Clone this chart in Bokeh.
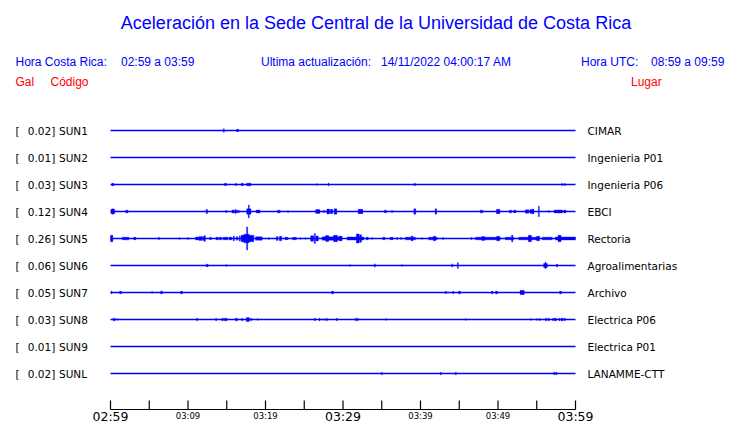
from bokeh.plotting import figure
from bokeh.models import Range1d
from bokeh.core.properties import value
from bokeh.embed import file_html
from bokeh.resources import INLINE

# ---------------- data ----------------
TITLE = "Aceleración en la Sede Central de la Universidad de Costa Rica"
HORA_CR = "02:59 a 03:59"
HORA_UTC = "08:59 a 09:59"
ACTUALIZACION = "14/11/2022 04:00:17 AM"

codes = ["SUN1", "SUN2", "SUN3", "SUN4", "SUN5", "SUN6", "SUN7", "SUN8", "SUN9", "SUNL"]
peaks = ["0.02", "0.01", "0.03", "0.12", "0.26", "0.06", "0.05", "0.03", "0.01", "0.02"]
places = ["CIMAR", "Ingenieria P01", "Ingenieria P06", "EBCI", "Rectoria",
          "Agroalimentarias", "Archivo", "Electrica P06", "Electrica P01", "LANAMME-CTT"]

# time axis (minutes after 02:59)
tick_minutes = [0, 5, 10, 15, 20, 25, 30, 35, 40, 45, 50, 55, 60]
label_minutes = [0, 10, 20, 30, 40, 50, 60]
label_texts = ["02:59", "03:09", "03:19", "03:29", "03:39", "03:49", "03:59"]
major_labels = ["02:59", "03:29", "03:59"]

# bursts per station: (minute, duration in minutes, half amplitude in trace-spacing units)
ev_sun1 = [(14.62, 0.12, 0.065), (16.39, 0.25, 0.045)]
ev_sun2 = []
ev_sun3 = [(0.30, 0.25, 0.05), (14.84, 0.25, 0.045), (16.17, 0.12, 0.045), (16.99, 0.25, 0.05),
           (17.85, 0.55, 0.05), (26.62, 0.12, 0.03), (28.13, 0.12, 0.05), (39.27, 0.12, 0.05),
           (58.28, 0.12, 0.04), (58.62, 0.12, 0.04)]
ev_sun4 = [(0.30, 0.50, 0.085), (0.30, 0.15, 0.10), (2.11, 0.30, 0.05), (12.43, 0.20, 0.07),
           (14.92, 0.15, 0.04),
           (15.83, 0.30, 0.055), (16.13, 0.15, 0.07), (16.34, 0.15, 0.05), (16.56, 0.15, 0.04),
           (17.85, 0.55, 0.10), (17.85, 0.12, 0.24), (19.05, 0.50, 0.055), (21.72, 0.35, 0.05),
           (22.92, 0.12, 0.03), (26.75, 0.55, 0.07), (27.53, 0.15, 0.04), (28.09, 0.35, 0.09),
           (28.52, 0.30, 0.08), (29.03, 0.35, 0.10), (32.26, 0.60, 0.08), (35.48, 0.30, 0.045),
           (36.34, 0.12, 0.035), (39.27, 0.25, 0.10), (41.98, 0.20, 0.10), (47.87, 0.35, 0.05),
           (50.02, 0.45, 0.08), (51.61, 0.30, 0.05), (52.17, 0.30, 0.05), (53.76, 0.45, 0.065),
           (54.32, 0.40, 0.07), (54.54, 0.20, 0.085), (55.27, 0.12, 0.19), (56.56, 0.12, 0.035),
           (57.42, 0.35, 0.055), (57.85, 0.40, 0.06), (58.19, 0.30, 0.055), (58.62, 0.25, 0.055)]
ev_sun5 = [(0.13, 0.35, 0.12), (1.94, 0.86, 0.05), (3.14, 0.30, 0.045), (6.24, 0.12, 0.05),
           (8.90, 0.12, 0.03), (9.98, 0.12, 0.035), (11.18, 0.40, 0.055), (11.61, 0.40, 0.07),
           (12.04, 0.30, 0.075), (12.17, 0.12, 0.11), (12.90, 0.20, 0.05), (13.76, 0.30, 0.05),
           (14.19, 0.30, 0.05), (14.84, 0.60, 0.05), (15.48, 0.30, 0.055), (15.91, 0.12, 0.09),
           (16.34, 0.20, 0.065), (16.69, 0.12, 0.10), (16.99, 0.20, 0.10), (17.70, 1.60, 0.12),
           (17.55, 0.70, 0.16), (17.63, 0.15, 0.43), (19.14, 0.86, 0.065), (20.43, 0.12, 0.035),
           (21.50, 0.20, 0.07), (21.94, 0.30, 0.085), (22.71, 0.40, 0.045), (23.74, 0.50, 0.045),
           (24.52, 0.12, 0.03), (25.16, 0.12, 0.03), (26.02, 0.40, 0.10), (26.37, 0.15, 0.185),
           (26.67, 0.30, 0.09), (28.60, 2.58, 0.065), (27.96, 0.40, 0.11), (29.03, 0.50, 0.12),
           (29.68, 0.30, 0.09), (31.61, 2.15, 0.06), (31.90, 0.35, 0.17), (32.26, 0.25, 0.14),
           (33.12, 0.30, 0.045), (33.76, 0.12, 0.03), (35.27, 0.30, 0.045), (36.26, 0.40, 0.045),
           (37.00, 0.12, 0.035), (37.50, 0.12, 0.035), (38.71, 1.30, 0.05), (38.92, 0.20, 0.09),
           (40.20, 0.12, 0.03), (41.60, 1.10, 0.05), (41.80, 0.30, 0.085), (42.92, 0.12, 0.04),
           (46.58, 0.12, 0.035), (48.69, 3.20, 0.05), (48.09, 0.40, 0.07), (50.02, 0.40, 0.085),
           (51.48, 1.10, 0.05), (51.83, 0.15, 0.13), (53.98, 2.60, 0.05), (54.11, 0.40, 0.12),
           (55.18, 0.40, 0.085), (56.34, 1.30, 0.05), (58.70, 2.60, 0.06), (57.94, 0.40, 0.12)]
ev_sun6 = [(12.47, 0.25, 0.05), (14.97, 0.12, 0.03), (30.88, 0.12, 0.03), (34.11, 0.12, 0.06),
           (37.59, 0.12, 0.03), (44.09, 0.12, 0.06), (44.82, 0.12, 0.11), (56.13, 0.50, 0.075),
           (56.13, 0.12, 0.12), (57.63, 0.12, 0.055)]
ev_sun7 = [(0.13, 0.12, 0.05), (1.29, 0.25, 0.05), (5.38, 0.12, 0.03), (6.58, 0.25, 0.05),
           (9.16, 0.25, 0.05), (28.65, 0.25, 0.05), (43.27, 0.12, 0.05), (44.22, 0.12, 0.05),
           (45.03, 0.25, 0.05), (49.25, 0.20, 0.05), (49.81, 0.25, 0.05), (53.12, 0.55, 0.08),
           (58.06, 0.25, 0.05)]
ev_sun8 = [(0.47, 0.25, 0.05), (0.86, 0.12, 0.03), (11.18, 0.12, 0.05), (13.63, 0.12, 0.05),
           (14.41, 0.12, 0.05), (14.67, 0.12, 0.05), (14.92, 0.25, 0.05), (16.26, 0.25, 0.05),
           (16.99, 0.12, 0.05), (17.72, 0.40, 0.075), (18.15, 0.12, 0.05), (19.01, 0.12, 0.03),
           (26.37, 0.12, 0.05), (26.97, 0.12, 0.05), (27.53, 0.12, 0.03), (27.91, 0.12, 0.05),
           (29.20, 0.12, 0.05), (31.66, 0.12, 0.05), (31.91, 0.12, 0.05), (35.53, 0.12, 0.03),
           (45.85, 0.12, 0.03), (54.24, 0.12, 0.03), (55.05, 0.12, 0.03), (55.40, 0.12, 0.04),
           (56.22, 0.25, 0.04), (56.56, 0.12, 0.05), (57.12, 0.12, 0.05), (57.42, 0.25, 0.05),
           (57.94, 0.12, 0.05), (58.28, 0.25, 0.05), (58.62, 0.12, 0.05)]
ev_sun9 = []
ev_sunl = [(35.01, 0.12, 0.05), (42.62, 0.12, 0.05), (44.56, 0.12, 0.05), (57.25, 0.12, 0.05),
           (57.51, 0.12, 0.05)]

station_events = [ev_sun1, ev_sun2, ev_sun3, ev_sun4, ev_sun5,
                  ev_sun6, ev_sun7, ev_sun8, ev_sun9, ev_sunl]

# ---------------- layout helpers (reference pixel -> data) ----------------
W, H = 740, 423
def X(px):
    return (px - 110) / 7.75
def Y(py):
    return (py - 130) / 27.0

BLUE = "#0000ff"
RED = "#ff0000"
SANS = value("Liberation Sans")
DEJ = value("DejaVu Sans")

p = figure(width=W, height=H, output_backend="svg", toolbar_location=None,
           x_range=Range1d(X(0), X(W)), y_range=Range1d(Y(H), Y(0)),
           x_axis_location=None, y_axis_location=None, min_border=0,
           background_fill_color="white", border_fill_color="white")
p.outline_line_color = None
p.grid.visible = False

rows = list(range(len(codes)))

# baselines
p.segment(x0=[tick_minutes[0]] * len(rows), x1=[tick_minutes[-1]] * len(rows),
          y0=rows, y1=rows, line_color=BLUE, line_width=1.3)

# bursts
left, right, bottom, top = [], [], [], []
for i, evs in enumerate(station_events):
    for t, w, a in evs:
        w = max(w, 0.13)
        left.append(max(t - w / 2, 0))
        right.append(min(t + w / 2, 60))
        bottom.append(i - a)
        top.append(i + a)
p.quad(left=left, right=right, bottom=bottom, top=top,
       fill_color=BLUE, line_color=BLUE, line_width=0.3)

# labels left / right
p.text(x=[X(15)] * len(rows), y=rows, text=["["] * len(rows), text_font=DEJ,
       text_font_size="10.5px", text_color="black", text_baseline="middle", text_align="left")
p.text(x=[X(54.8)] * len(rows), y=rows, text=[v + "]" for v in peaks], text_font=DEJ,
       text_font_size="10.5px", text_color="black", text_baseline="middle", text_align="right")
p.text(x=[X(58.5)] * len(rows), y=rows, text=codes, text_font=DEJ,
       text_font_size="10.5px", text_color="black", text_baseline="middle", text_align="left")
p.text(x=[X(587)] * len(rows), y=rows, text=places, text_font=DEJ,
       text_font_size="10.5px", text_color="black", text_baseline="middle", text_align="left")

# time axis
ax_y = Y(409)
p.segment(x0=[tick_minutes[0]], x1=[tick_minutes[-1]], y0=[ax_y], y1=[ax_y],
          line_color="black", line_width=1.2)
p.segment(x0=tick_minutes, x1=tick_minutes, y0=[ax_y] * len(tick_minutes),
          y1=[Y(400)] * len(tick_minutes), line_color="black", line_width=1.2)
big = [(m, t) for m, t in zip(label_minutes, label_texts) if t in major_labels]
small = [(m, t) for m, t in zip(label_minutes, label_texts) if t not in major_labels]
p.text(x=[m for m, _ in big], y=[Y(416.2)] * len(big), text=[t for _, t in big],
       text_font=DEJ, text_font_size="12.5px", text_color="black",
       text_baseline="middle", text_align="center")
p.text(x=[m for m, _ in small], y=[Y(415.5)] * len(small), text=[t for _, t in small],
       text_font=DEJ, text_font_size="8.5px", text_color="black",
       text_baseline="middle", text_align="center")

# title and header
p.text(x=[X(375.5)], y=[Y(22)], text=[TITLE], text_font=SANS, text_font_size="18px",
       text_color=BLUE, text_baseline="middle", text_align="center")
p.text(x=[X(15), X(120.5), X(260.5), X(380.5), X(580.5), X(650.5)], y=[Y(61)] * 6,
       text=["Hora Costa Rica:", HORA_CR, "Ultima actualización:", ACTUALIZACION,
             "Hora UTC:", HORA_UTC],
       text_font=SANS, text_font_size="12px", text_color=BLUE,
       text_baseline="middle", text_align="left")
p.text(x=[X(15), X(50), X(630.5)], y=[Y(81)] * 3, text=["Gal", "Código", "Lugar"],
       text_font=SANS, text_font_size="12px", text_color=RED,
       text_baseline="middle", text_align="left")

open("out.html", "w").write(file_html(p, INLINE))
